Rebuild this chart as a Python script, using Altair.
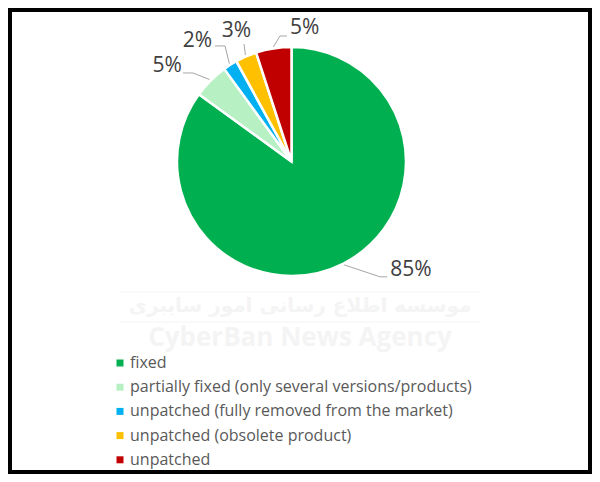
import altair as alt
import pandas as pd

# ---- data ----
categories = [
    "fixed",
    "partially fixed (only several versions/products)",
    "unpatched (fully removed from the market)",
    "unpatched (obsolete product)",
    "unpatched",
]
values = [85, 5, 2, 3, 5]
labels = ["85%", "5%", "2%", "3%", "5%"]
colors = ["#00B050", "#B7F1C3", "#00B0F0", "#FFC000", "#C00000"]
watermark_texts = ["موسسه اطلاع رسانی امور سایبری", "CyberBan News Agency"]

# ---- layout / style ----
W, H = 584, 466
CX, CY, R = 283.5, 153.5, 114.5
EDGE = 116
LABEL_FONT = "Open Sans"
LEADER_COLOR = "#A6A6A6"
WM_COLOR = "#F4F4F4"
# leader geometry per slice: bend offset from slice edge, horizontal tail, text offset
LEADER = {
    categories[0]: dict(bx=36, by=12, hx=7, tdx=3, tdy=-7, align="left"),
    categories[1]: dict(bx=-16.5, by=-6.5, hx=-10, tdx=-1, tdy=-7, align="right"),
    categories[2]: dict(bx=-4.3, by=-17.6, hx=-10, tdx=-3, tdy=-5, align="right"),
    categories[3]: dict(bx=-1.4, by=-11, hx=0, tdx=-7.5, tdy=-13, align="center"),
    categories[4]: dict(bx=6.6, by=-10.9, hx=7, tdx=3, tdy=-8, align="left"),
}

df = pd.DataFrame({
    "category": categories,
    "value": values,
    "label": labels,
    "order": list(range(len(values))),
})

base = alt.Chart(df)

pie = base.mark_arc(outerRadius=R, stroke="white", strokeWidth=2.5).encode(
    theta=alt.Theta("value:Q", stack=True),
    order=alt.Order("order:Q"),
    color=alt.Color(
        "category:N",
        scale=alt.Scale(domain=categories, range=colors),
        sort=categories,
        legend=alt.Legend(
            title=None,
            orient="none",
            legendX=104,
            legendY=347,
            direction="vertical",
            symbolType="square",
            symbolSize=49,
            symbolStrokeWidth=0,
            labelFont=LABEL_FONT,
            labelFontSize=16,
            labelColor="#595959",
            labelLimit=0,
            labelOffset=2,
            rowPadding=8.2,
        ),
    ),
    x=alt.value(CX),
    y=alt.value(CY),
)

geo = (
    base.transform_joinaggregate(total="sum(value)")
    .transform_window(cum="sum(value)", sort=[alt.SortField("order")], frame=[None, 0])
    .transform_calculate(mid="(datum.cum - datum.value / 2) / datum.total * 2 * PI")
    .transform_calculate(ex=f"{CX} + {EDGE} * sin(datum.mid)")
    .transform_calculate(ey=f"{CY} - {EDGE} * cos(datum.mid)")
)

layers = [pie]

for cat in categories:
    g = LEADER[cat]
    sub = (
        geo.transform_filter(alt.datum.category == cat)
        .transform_calculate(bx=f"datum.ex + ({g['bx']})")
        .transform_calculate(by=f"datum.ey + ({g['by']})")
        .transform_calculate(hx=f"datum.bx + ({g['hx']})")
    )
    layers.append(
        sub.mark_rule(color=LEADER_COLOR, strokeWidth=1).encode(
            x=alt.X("ex:Q", scale=None, axis=None),
            y=alt.Y("ey:Q", scale=None, axis=None),
            x2="bx:Q",
            y2="by:Q",
        )
    )
    if g["hx"] != 0:
        layers.append(
            sub.mark_rule(color=LEADER_COLOR, strokeWidth=1).encode(
                x=alt.X("bx:Q", scale=None, axis=None),
                y=alt.Y("by:Q", scale=None, axis=None),
                x2="hx:Q",
                y2="by:Q",
            )
        )
    layers.append(
        sub.mark_text(
            align=g["align"],
            baseline="middle",
            font=LABEL_FONT,
            fontSize=21,
            color="#404040",
            dx=g["tdx"],
            dy=g["tdy"],
        ).encode(
            x=alt.X("hx:Q", scale=None, axis=None),
            y=alt.Y("by:Q", scale=None, axis=None),
            text="label:N",
        )
    )

# faint watermark
wm_df = pd.DataFrame({"t": watermark_texts})
wm_fa = alt.Chart(wm_df).transform_filter(alt.datum.t == watermark_texts[0]).mark_text(
    font="DejaVu Sans", fontSize=20, fontWeight="bold", color=WM_COLOR, align="center", baseline="middle"
).encode(text="t:N", x=alt.value(292), y=alt.value(298))
wm_en = alt.Chart(wm_df).transform_filter(alt.datum.t == watermark_texts[1]).mark_text(
    font="Open Sans", fontSize=26, fontWeight="bold", color=WM_COLOR, align="center", baseline="middle"
).encode(text="t:N", x=alt.value(292), y=alt.value(330))
wm_line1 = alt.Chart(wm_df).transform_filter(alt.datum.t == watermark_texts[1]).mark_rule(
    color=WM_COLOR, strokeWidth=1
).encode(x=alt.value(112), x2=alt.value(472), y=alt.value(284))
wm_line2 = alt.Chart(wm_df).transform_filter(alt.datum.t == watermark_texts[1]).mark_rule(
    color=WM_COLOR, strokeWidth=1
).encode(x=alt.value(112), x2=alt.value(472), y=alt.value(314))

border = alt.Chart(wm_df).transform_filter(alt.datum.t == watermark_texts[1]).mark_rect(
    filled=False, stroke="black", strokeWidth=8
).encode(x=alt.value(0), x2=alt.value(W), y=alt.value(0), y2=alt.value(H))

chart = alt.layer(wm_line1, wm_line2, wm_fa, wm_en, *layers, border).properties(
    width=W,
    height=H,
    padding=0,
    autosize=alt.AutoSizeParams(type="none"),
    background="white",
).configure_view(stroke=None)

chart.save("out.html", embed_options={"renderer": "svg", "actions": False})
